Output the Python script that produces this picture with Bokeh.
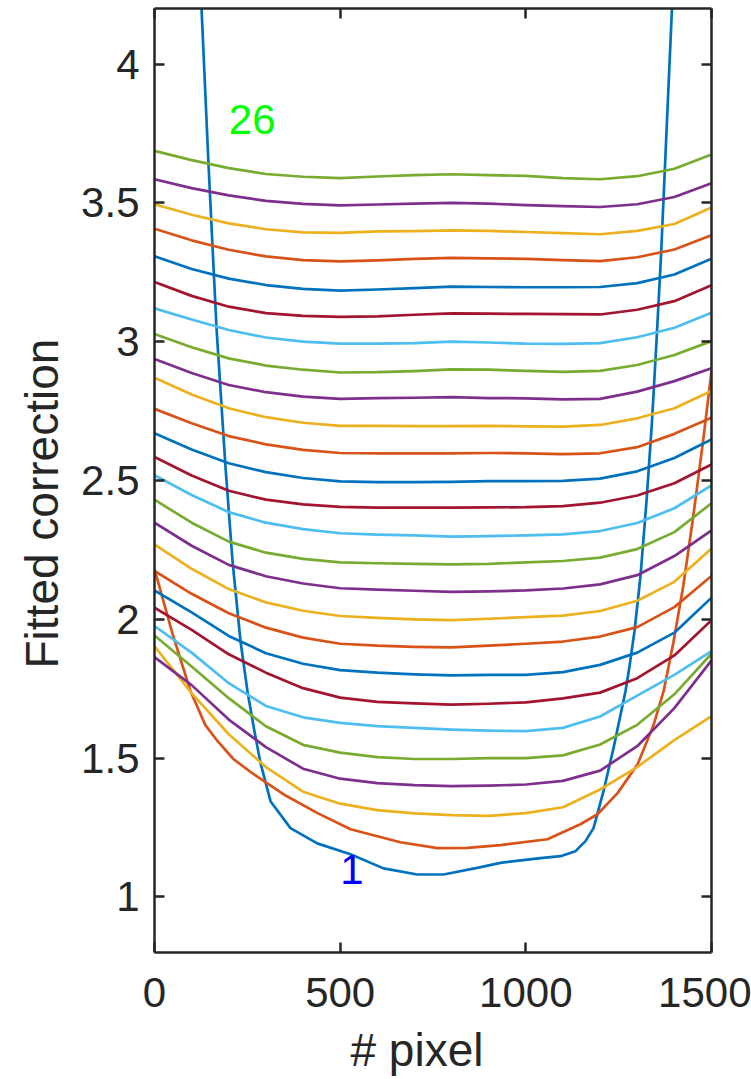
from bokeh.plotting import figure
from bokeh.models import Range1d, LinearAxis, FixedTicker, Title
from bokeh.embed import file_html
from bokeh.resources import INLINE
from bokeh.core.properties import value

# ---------------- data ----------------
x_pixel = [0, 100, 200, 300, 400, 500, 600, 700, 800, 900, 1000, 1100, 1200, 1300, 1400, 1500]

# curve 1 (steep blue) and curve 2 (steep orange) have their own x samples
curve_01_x = [126.6, 145.4, 167.0, 191.2, 210.1, 231.6, 250.4, 268.0, 285.5, 312.4, 366.2, 438.2,
              527.8, 616.7, 707.5, 778.3, 869.0, 931.8, 1039.5, 1093.4, 1133.8, 1160.7, 1182.3,
              1209.2, 1236.1, 1268.4, 1279.2, 1292.6, 1308.8, 1325.0, 1339.8, 1351.9, 1364.0,
              1378.9, 1393.6]
curve_01_y = [4.202, 3.640, 3.049, 2.548, 2.210, 1.921, 1.741, 1.605, 1.482, 1.345, 1.248, 1.193,
              1.154, 1.103, 1.081, 1.081, 1.105, 1.123, 1.140, 1.147, 1.165, 1.201, 1.248,
              1.381, 1.536, 1.741, 1.831, 1.957, 2.156, 2.426, 2.714, 3.002, 3.308,
              3.759, 4.202]

curve_02_x = [0, 48, 97, 137, 170, 213, 259, 347, 439, 528, 662, 762, 843, 932, 1058, 1147,
              1193, 1247, 1301, 1344, 1371, 1397, 1424, 1451, 1478, 1500]
curve_02_y = [2.181, 1.950, 1.741, 1.619, 1.561, 1.496, 1.450, 1.370, 1.302, 1.244, 1.197, 1.176,
              1.177, 1.187, 1.208, 1.262, 1.298, 1.374, 1.478, 1.619, 1.741, 1.914, 2.120,
              2.372, 2.649, 2.894]

curve_03 = [1.903, 1.734, 1.586, 1.468, 1.379, 1.336, 1.313, 1.301, 1.295, 1.292, 1.302, 1.323, 1.387, 1.468, 1.565, 1.651]
curve_04 = [1.864, 1.763, 1.639, 1.540, 1.462, 1.426, 1.410, 1.403, 1.399, 1.401, 1.405, 1.418, 1.455, 1.543, 1.680, 1.852]
curve_05 = [1.942, 1.830, 1.716, 1.615, 1.548, 1.520, 1.504, 1.497, 1.497, 1.500, 1.500, 1.510, 1.549, 1.620, 1.730, 1.876]
curve_06 = [1.976, 1.880, 1.770, 1.688, 1.647, 1.627, 1.615, 1.609, 1.603, 1.599, 1.597, 1.609, 1.650, 1.725, 1.800, 1.885]
curve_07 = [2.042, 1.962, 1.874, 1.808, 1.752, 1.718, 1.703, 1.697, 1.693, 1.696, 1.701, 1.715, 1.736, 1.788, 1.870, 1.997]
curve_08 = [2.104, 2.025, 1.940, 1.878, 1.840, 1.817, 1.808, 1.802, 1.798, 1.800, 1.800, 1.810, 1.836, 1.880, 1.952, 2.078]
curve_09 = [2.174, 2.092, 2.022, 1.970, 1.934, 1.912, 1.905, 1.901, 1.899, 1.905, 1.912, 1.920, 1.938, 1.972, 2.044, 2.156]
curve_10 = [2.270, 2.182, 2.109, 2.061, 2.031, 2.012, 2.005, 2.000, 1.997, 2.002, 2.008, 2.013, 2.030, 2.067, 2.135, 2.255]
curve_11 = [2.348, 2.265, 2.196, 2.155, 2.129, 2.112, 2.107, 2.103, 2.099, 2.101, 2.104, 2.111, 2.126, 2.159, 2.228, 2.320]
curve_12 = [2.431, 2.348, 2.280, 2.240, 2.218, 2.205, 2.202, 2.200, 2.198, 2.200, 2.205, 2.210, 2.222, 2.253, 2.314, 2.418]
curve_13 = [2.519, 2.448, 2.386, 2.348, 2.325, 2.310, 2.305, 2.302, 2.298, 2.300, 2.302, 2.306, 2.318, 2.347, 2.400, 2.482]
curve_14 = [2.585, 2.518, 2.463, 2.431, 2.414, 2.405, 2.402, 2.402, 2.402, 2.403, 2.404, 2.408, 2.420, 2.446, 2.490, 2.558]
curve_15 = [2.670, 2.612, 2.562, 2.530, 2.509, 2.497, 2.494, 2.494, 2.495, 2.498, 2.498, 2.499, 2.507, 2.533, 2.581, 2.648]
curve_16 = [2.758, 2.706, 2.660, 2.630, 2.610, 2.599, 2.598, 2.598, 2.598, 2.599, 2.598, 2.595, 2.598, 2.620, 2.668, 2.726]
curve_17 = [2.870, 2.810, 2.760, 2.728, 2.708, 2.697, 2.697, 2.696, 2.696, 2.697, 2.695, 2.694, 2.700, 2.724, 2.760, 2.822]
curve_18 = [2.938, 2.887, 2.844, 2.818, 2.802, 2.794, 2.797, 2.798, 2.800, 2.797, 2.796, 2.792, 2.794, 2.820, 2.858, 2.904]
curve_19 = [3.028, 2.980, 2.940, 2.914, 2.899, 2.889, 2.890, 2.894, 2.900, 2.899, 2.895, 2.891, 2.895, 2.916, 2.952, 3.002]
curve_20 = [3.120, 3.080, 3.042, 3.015, 3.000, 2.993, 2.993, 2.995, 3.000, 2.997, 2.993, 2.992, 2.995, 3.016, 3.050, 3.104]
curve_21 = [3.215, 3.165, 3.126, 3.103, 3.093, 3.089, 3.091, 3.097, 3.102, 3.101, 3.100, 3.099, 3.098, 3.115, 3.146, 3.203]
curve_22 = [3.308, 3.262, 3.227, 3.204, 3.190, 3.184, 3.188, 3.193, 3.198, 3.197, 3.196, 3.196, 3.197, 3.211, 3.242, 3.299]
curve_23 = [3.407, 3.365, 3.331, 3.307, 3.294, 3.289, 3.293, 3.298, 3.302, 3.300, 3.298, 3.294, 3.290, 3.304, 3.332, 3.383]
curve_24 = [3.495, 3.457, 3.426, 3.405, 3.394, 3.392, 3.397, 3.398, 3.401, 3.399, 3.395, 3.391, 3.387, 3.399, 3.424, 3.483]
curve_25 = [3.585, 3.553, 3.527, 3.507, 3.496, 3.491, 3.494, 3.497, 3.500, 3.497, 3.492, 3.488, 3.485, 3.495, 3.521, 3.571]
curve_26 = [3.687, 3.654, 3.625, 3.604, 3.594, 3.589, 3.595, 3.600, 3.603, 3.600, 3.597, 3.589, 3.585, 3.596, 3.623, 3.674]

x_ticks = [0, 500, 1000, 1500]
y_ticks = [1.0, 1.5, 2.0, 2.5, 3.0, 3.5, 4.0]
y_tick_labels = ["1", "1.5", "2", "2.5", "3", "3.5", "4"]

curve_labels = ["1", "26"]
curve_label_x = [500, 200]
curve_label_y = [1.1, 3.8]

# MATLAB default colour order
colors = ["#0072BD", "#D95319", "#EDB120", "#7E2F8E", "#77AC30", "#4DBEEE", "#A2142F"]
label_colors = ["#0000FF", "#00FF00"]

# ---------------- figure ----------------
AX = "#262626"
FONT = "Liberation Sans"

p = figure(width=751, height=1079, x_range=Range1d(0, 1500), y_range=Range1d(0.8, 4.2),
           output_backend="svg", toolbar_location=None,
           min_border_left=154, min_border_right=40, min_border_top=8, min_border_bottom=127)
p.xgrid.visible = False
p.ygrid.visible = False
p.outline_line_color = None
p.background_fill_color = "white"
p.border_fill_color = "white"


def style(ax, ticks, show):
    ax.ticker = FixedTicker(ticks=ticks)
    ax.major_tick_in = 10
    ax.major_tick_out = 0
    ax.minor_tick_in = 0
    ax.minor_tick_out = 0
    ax.axis_line_color = AX
    ax.axis_line_width = 2.5
    ax.major_tick_line_color = AX
    ax.major_tick_line_width = 2.5
    ax.major_label_text_font = FONT
    ax.major_label_text_color = AX
    if show:
        ax.major_label_text_font_size = "42px"
    else:
        ax.major_label_text_font_size = "0px"
        ax.major_label_standoff = 0
        ax.major_label_overrides = {t: "" for t in ticks}


xa = p.xaxis[0]
style(xa, x_ticks, True)
xa.major_label_standoff = 25

ya = p.yaxis[0]
style(ya, y_ticks, True)
ya.major_label_standoff = 15
ya.major_label_overrides = dict(zip(y_ticks, y_tick_labels))

top = LinearAxis()
style(top, x_ticks, False)
p.add_layout(top, "above")
right = LinearAxis()
style(right, y_ticks, False)
p.add_layout(right, "right")

# invisible spacer below the x tick labels (pushes the x label down)
spacer = LinearAxis()
style(spacer, x_ticks, False)
spacer.axis_line_color = None
spacer.major_tick_line_color = None
spacer.major_tick_in = 0
spacer.major_tick_out = 12
p.add_layout(spacer, "below")

# ---------------- curves ----------------
series = [(curve_01_x, curve_01_y), (curve_02_x, curve_02_y)]
for ys in [curve_03, curve_04, curve_05, curve_06, curve_07, curve_08, curve_09, curve_10,
           curve_11, curve_12, curve_13, curve_14, curve_15, curve_16, curve_17, curve_18,
           curve_19, curve_20, curve_21, curve_22, curve_23, curve_24, curve_25, curve_26]:
    series.append((x_pixel, ys))

for i, (xs, ys) in enumerate(series):
    p.line(xs, ys, line_color=colors[i % 7], line_width=2.7, line_join="round")

p.text(x=curve_label_x, y=curve_label_y, text=curve_labels, text_color=label_colors,
       text_font=value(FONT), text_font_size="42px", text_align="left", text_baseline="middle")

# axis labels (as side titles so that they can be offset like the reference)
xt = Title(text="# pixel", align="left", offset=196, standoff=0, vertical_align="bottom",
           text_font=FONT, text_font_size="46px", text_font_style="normal", text_color=AX)
p.add_layout(xt, "below")
yt = Title(text="Fitted correction", align="left", offset=284, standoff=22, vertical_align="bottom",
           text_font=FONT, text_font_size="46px", text_font_style="normal", text_color=AX)
p.add_layout(yt, "left")

open("out.html", "w").write(file_html(p, INLINE))
